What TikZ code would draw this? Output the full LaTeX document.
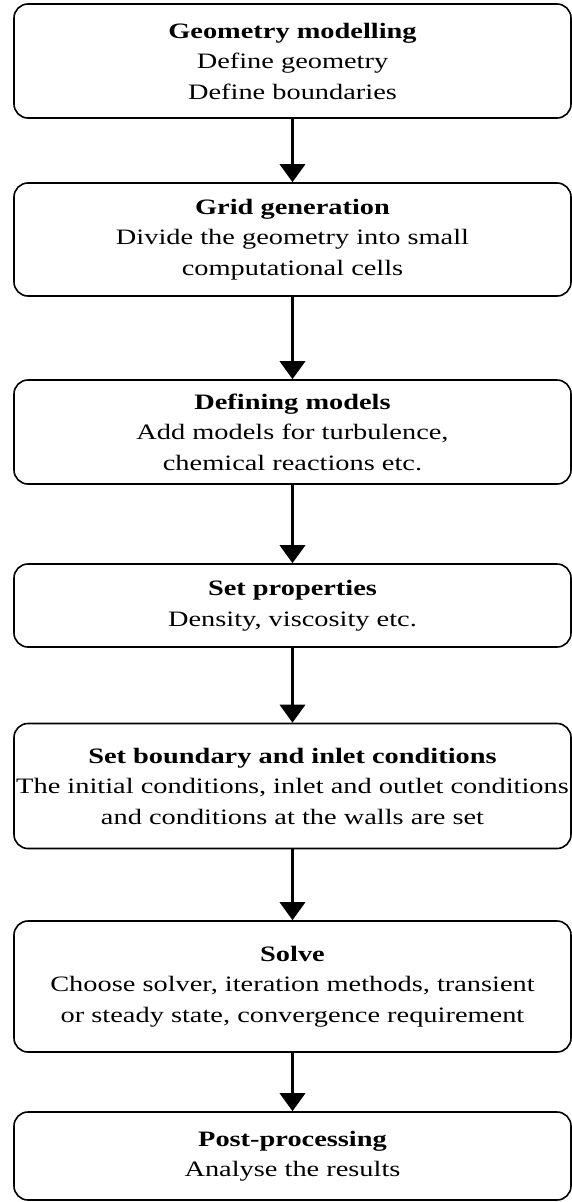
\documentclass[tikz,border=0pt]{standalone}
\usepackage{fontspec}
\setmainfont{Liberation Serif}[FakeStretch=1.29]
\usetikzlibrary{arrows.meta}
\begin{document}
\begin{tikzpicture}[x=1pt,y=1pt,
  stepbox/.style={draw=black, line width=1.6pt, rounded corners=14pt, rectangle,
    minimum width=557pt, inner sep=0pt, align=center,
    font=\fontsize{22}{30.5}\selectfont},
  flow/.style={line width=3.6pt, -{Triangle[width=25pt,length=18pt]}}]
\useasboundingbox (0,0) rectangle (572,-1202);
\node[stepbox, minimum height=114pt] (b1) at (292.5,-61)
  {\textbf{Geometry modelling}\\Define geometry\\Define boundaries};
\node[stepbox, minimum height=113pt] (b2) at (292.5,-239.5)
  {\textbf{Grid generation}\\Divide the geometry into small\\computational cells};
\node[stepbox, minimum height=104pt] (b3) at (292.5,-432)
  {\textbf{Defining models}\\Add models for turbulence,\\chemical reactions etc.};
\node[stepbox, minimum height=83pt] (b4) at (292.5,-605.5)
  {\textbf{Set properties}\\Density, viscosity etc.};
\node[stepbox, minimum height=125pt] (b5) at (292.5,-786)
  {\textbf{Set boundary and inlet conditions}\\The initial conditions, inlet and outlet conditions\\and conditions at the walls are set};
\node[stepbox, minimum height=131pt] (b6) at (292.5,-986.5)
  {\textbf{Solve}\\Choose solver, iteration methods, transient\\or steady state, convergence requirement};
\node[stepbox, minimum height=88pt] (b7) at (292.5,-1156)
  {\textbf{Post-processing}\\Analyse the results};
\draw[flow] (b1.south) -- (b2.north);
\draw[flow] (b2.south) -- (b3.north);
\draw[flow] (b3.south) -- (b4.north);
\draw[flow] (b4.south) -- (b5.north);
\draw[flow] (b5.south) -- (b6.north);
\draw[flow] (b6.south) -- (b7.north);
\end{tikzpicture}
\end{document}
